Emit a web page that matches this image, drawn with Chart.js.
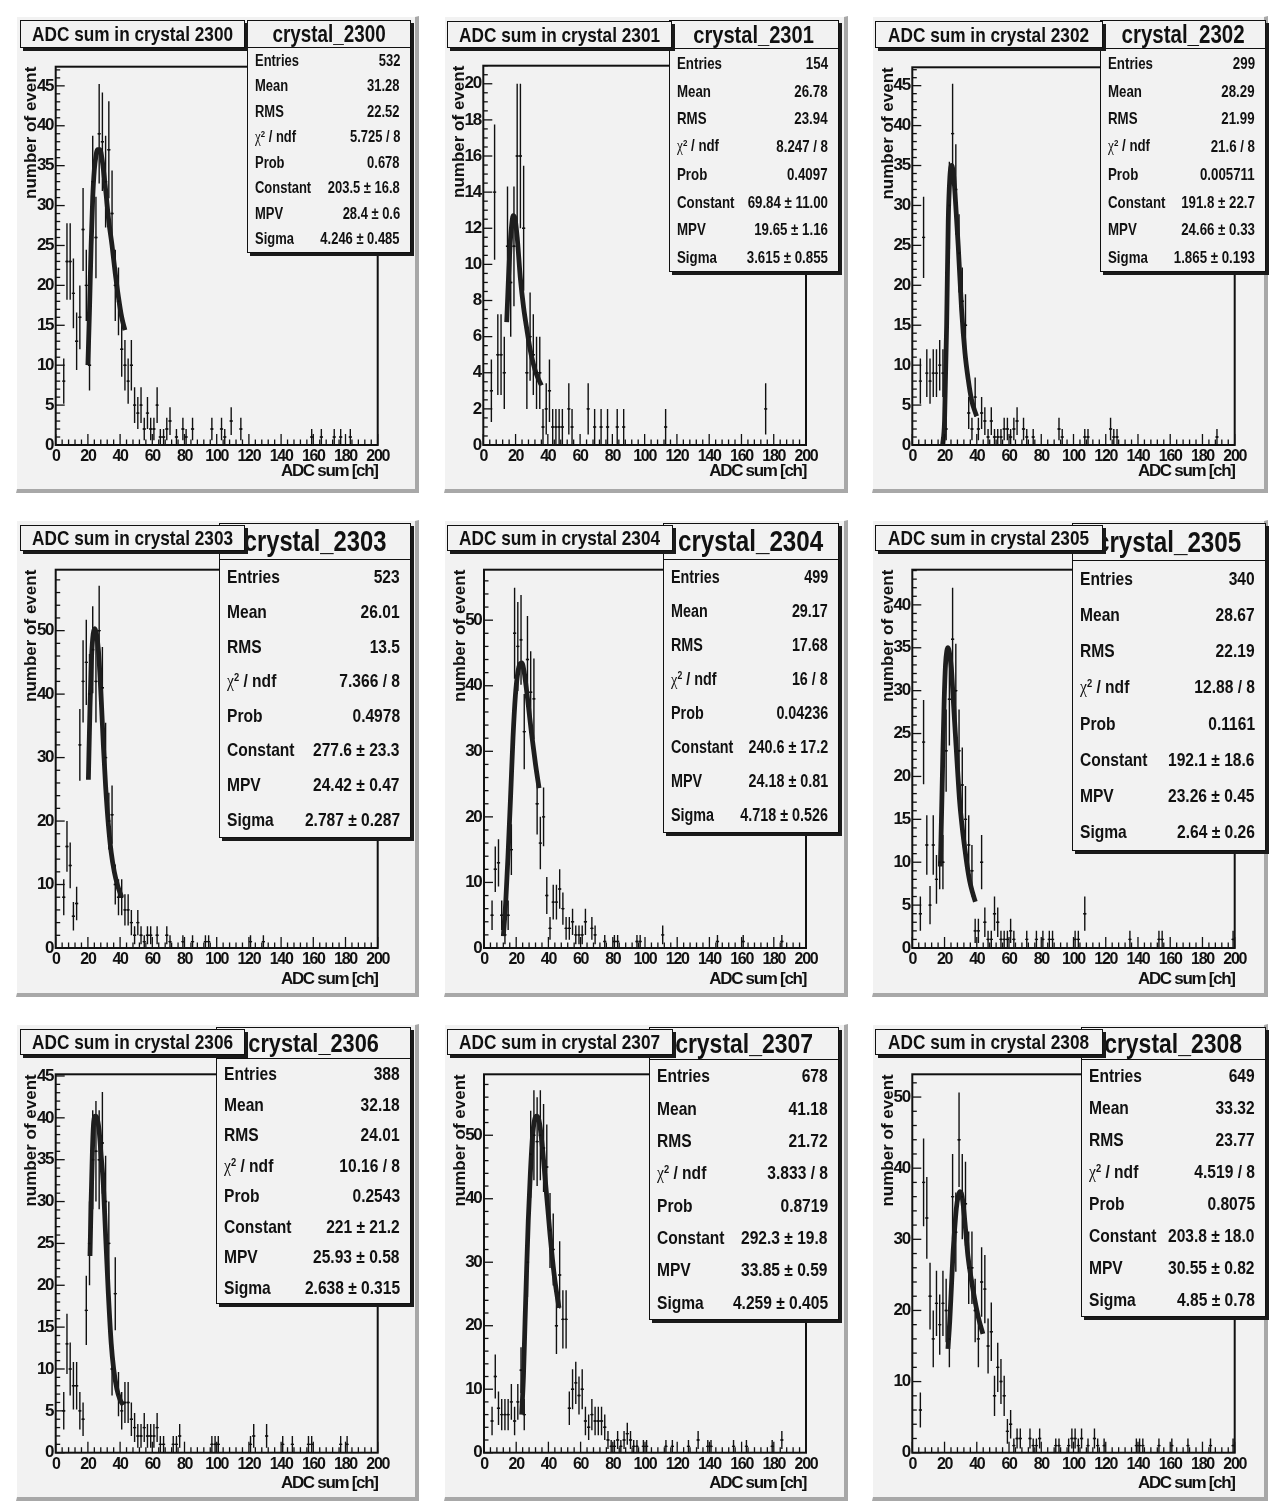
<!DOCTYPE html>
<html>
<head>
<meta charset="utf-8">
<script src="https://cdn.jsdelivr.net/npm/chart.js@4.4.1/dist/chart.umd.min.js"></script>
<style>
  body { margin: 0; background: #fff; width: 1271px; height: 1506px; position: relative; overflow: hidden; }
  .pad { position: absolute; background: #f2f2f2; box-sizing: border-box;
         border-style: solid; border-width: 1px 4px 4px 1px; border-color: #fff #a8a8a8 #a8a8a8 #fff; }
  canvas { position: absolute; }
  .box { position: absolute; background: #f2f2f2; border: 1.5px solid #111; box-shadow: 3px 3px 0 #1a1a1a;
         box-sizing: border-box; font-family: 'Liberation Sans', Arial, sans-serif;
         font-weight: bold; color: #111; }
  .pave { display: flex; align-items: center; justify-content: center; font-size: 21px; }
  .nx { display: inline-block; white-space: nowrap; transform: scaleX(0.82); }
  .st-title { display: flex; align-items: center; justify-content: center; border-bottom: 1.5px solid #111; box-sizing: border-box; }
  .st-body { display: flex; flex-direction: column; padding: 0 10px 0 7px; box-sizing: border-box; }
  .st-row { flex: 1; position: relative; }
  .st-row span.lab, .st-row span.val { position: absolute; top: 50%; white-space: nowrap; }
  .st-row span.lab { left: 0; transform: translateY(-50%) scaleX(0.82); transform-origin: left center; }
  .st-row span.val { right: 0; transform: translateY(-50%) scaleX(0.82); transform-origin: right center; }
  .st-row sup { font-size: 0.6em; vertical-align: 0.55em; line-height: 0; }
  .chi { font-family: 'Liberation Serif', serif; font-weight: normal; }
</style>
</head>
<body>
<script>
const FONT = "'Liberation Sans',Arial,sans-serif";
const BIN_W = 2;

const crystals = ['2300', '2301', '2302', '2303', '2304', '2305', '2306', '2307', '2308'];

// bin centres and counts (empty bins left out)
const x2300 = [5,7,9,11,13,15,17,19,21,23,25,27,29,31,33,35,37,39,41,43,45,47,49,51,53,55,57,59,61,63,65,67,69,71,75,79,81,85,97,103,105,109,115,159,165,173,177,183];
const n2300 = [8,23,23,19,13,16,27,20,10,33,26,39,38,33,37,29,20,18,12,10,8,10,5,4,5,2,4,2,2,5,1,1,2,3,1,2,1,2,2,2,1,3,2,1,1,1,1,1];
const x2301 = [5,7,9,11,13,15,17,19,21,23,25,27,29,31,33,35,37,39,41,43,45,47,49,53,55,65,69,73,77,83,87,113,175];
const n2301 = [3,14,5,5,4,11,9,11,16,16,12,4,6,5,4,4,1,2,3,1,1,1,1,2,1,2,1,1,1,1,1,1,2];
const x2302 = [5,7,9,11,13,15,17,19,21,23,25,27,29,31,33,35,37,39,41,43,45,47,49,51,53,55,57,59,61,63,65,69,71,75,91,93,107,109,123,125,127,189];
const n2302 = [8,26,9,8,9,9,10,9,2,30,39,32,24,18,15,4,2,6,2,4,3,1,3,1,1,1,2,2,1,2,3,2,1,1,2,1,1,1,2,1,1,1];
const x2303 = [5,7,9,11,13,15,17,19,21,23,25,27,29,31,33,35,37,39,41,43,45,47,49,51,53,55,57,59,63,69,71,79,85,93,95,121,129];
const n2303 = [8,16,13,5,7,32,42,45,40,47,42,50,41,30,20,21,10,8,8,6,6,4,2,4,2,1,2,2,2,2,1,1,1,1,1,1,1];
const x2304 = [5,7,9,11,13,15,17,19,21,23,25,27,29,31,33,35,37,39,41,43,45,47,49,51,53,55,57,59,61,63,67,69,75,81,83,95,97,111,145,161,185];
const n2304 = [5,12,13,5,2,5,15,48,46,47,33,44,39,38,22,16,20,8,3,7,7,9,6,3,3,4,2,2,2,4,3,2,1,1,1,1,1,2,1,1,1];
const x2305 = [5,7,9,11,13,15,17,19,21,23,25,27,29,31,33,35,37,39,41,43,45,47,49,51,53,55,57,59,61,63,71,77,81,85,87,101,103,107,135,153,155,199];
const n2305 = [4,24,12,5,12,8,10,10,23,29,36,30,23,19,15,12,9,2,2,10,3,1,1,4,3,1,1,1,2,1,1,1,1,1,1,1,1,4,1,1,1,1];
const x2306 = [5,7,9,11,13,15,17,19,21,23,25,27,29,31,33,35,37,39,41,43,45,47,49,51,53,55,57,59,61,63,65,67,73,75,77,97,99,101,121,123,131,141,147,157,159,177,181];
const n2306 = [5,13,10,8,8,5,4,17,25,35,36,35,37,30,25,10,19,7,5,6,6,4,3,2,2,3,2,2,2,3,1,1,1,1,2,1,1,1,1,2,2,1,1,1,1,1,1];
const x2307 = [5,7,9,11,13,15,17,19,21,23,25,27,29,31,33,35,37,39,41,43,45,47,49,51,53,55,57,59,61,63,65,67,69,71,73,75,77,79,81,83,85,87,89,91,93,95,99,101,113,117,127,133,139,141,155,163,179,185];
const n2307 = [5,12,7,6,6,6,8,5,8,13,6,30,47,50,49,50,48,45,35,32,20,28,21,21,7,10,11,9,10,5,4,6,5,5,5,4,2,1,1,2,1,2,3,2,1,1,1,1,1,1,1,2,1,1,1,1,1,2];
const x2308 = [5,7,9,11,13,15,17,19,21,23,25,27,29,31,33,35,37,39,41,43,45,47,49,51,53,55,57,59,61,63,65,67,73,75,77,79,89,91,97,99,101,103,105,109,113,115,119,139,141,143,153,161,171,185,199];
const n2308 = [6,38,33,22,16,21,18,21,20,16,36,31,44,36,35,26,26,20,16,24,23,15,17,8,12,10,8,3,4,1,2,2,2,1,1,2,1,1,1,2,2,1,2,1,2,1,1,1,1,1,1,1,1,1,1];

// Landau fit curves
const fitX2300 = [20, 21, 22, 23, 24, 25, 26, 27.5, 29, 31, 33, 35, 37, 39, 41, 43];
const fitY2300 = [10, 17, 25, 31, 34.5, 36.2, 37, 37, 35.5, 32, 28, 25, 21.5, 18.5, 16, 14.4];
const fitX2301 = [14.5, 15.5, 16.5, 17.5, 18.5, 19.5, 21, 23, 25, 27, 29, 31, 33, 36];
const fitY2301 = [6.8, 9, 10.9, 12.1, 12.7, 12.6, 11.5, 9.2, 7.6, 6.4, 5.3, 4.5, 3.9, 3.3];
const fitX2302 = [18.8, 20, 21.3, 22.3, 23.3, 24.4, 25.5, 26.5, 28.5, 30.6, 32.7, 34.7, 36.8, 39.9];
const fitY2302 = [0, 3, 15, 28, 33.5, 35, 34, 31.5, 24.9, 16.9, 11.5, 8.2, 5.6, 3.6];
const fitX2303 = [20.3, 21.3, 22.3, 23.3, 24.3, 25.3, 26.5, 27.5, 28.5, 29.6, 31, 32.7, 34.5, 36.4, 38.5, 41];
const fitY2303 = [26.5, 38, 46, 49.5, 50.3, 49.5, 47, 43, 38, 32, 25.5, 19.5, 15, 12, 9.8, 8];
const fitX2304 = [12, 13.5, 15, 16.5, 18, 19.5, 21, 22.5, 23.5, 25, 26.5, 28, 29.6, 32, 34.2];
const fitY2304 = [1.8, 7, 14.5, 23, 32, 38.5, 42, 43.4, 43.5, 42, 39.2, 36, 32.6, 28, 24.4];
const fitX2305 = [17.4, 18.2, 19, 19.8, 20.6, 21.4, 22.2, 23, 24.2, 25.4, 26.7, 28, 29.4, 31, 32.5, 34, 35.6, 37.3, 39.1];
const fitY2305 = [9.5, 16, 23, 29, 33, 34.6, 35, 34.5, 32.7, 29, 25, 21, 17, 14, 11.7, 9.6, 7.8, 6.5, 5.4];
const fitX2306 = [21.3, 22, 22.8, 23.6, 24.6, 25.6, 26.9, 28.2, 29.6, 31, 32.7, 34.5, 36, 38, 40, 42];
const fitY2306 = [23.5, 30, 36, 39.5, 40.2, 40, 38.6, 35.5, 32, 26, 19, 13, 10, 7.6, 6.3, 5.7];
const fitX2307 = [23.4, 24.5, 25.5, 26.5, 27.5, 28.8, 30.2, 31.5, 32.7, 34, 35, 36.5, 37.9, 39.5, 41, 42.5, 44.1, 46.6];
const fitY2307 = [6, 12, 20.7, 29, 36.6, 44, 50, 52.5, 53, 52.5, 51, 47.5, 43.4, 38.8, 34.4, 30.5, 27, 22.8];
const fitX2308 = [22.1, 23.2, 24.2, 25.2, 26.3, 27.3, 28.4, 29.4, 30.4, 31.4, 33, 34.5, 36.5, 38.7, 41, 43.8];
const fitY2308 = [14.6, 18.4, 23, 27.7, 31.5, 34.3, 36, 36.7, 36.5, 35.2, 31.5, 27.7, 24.5, 21.6, 19, 16.7];

// y axis range, labelled step and minor step per crystal
const yMax = [47.4, 21, 47.3, 59.6, 57.7, 44.1, 45.2, 59.6, 53.2];
const yStep = [5, 2, 5, 10, 10, 5, 5, 10, 10];
const yMinor = [1, 0.5, 1, 2, 2, 1, 1, 2, 2];

// statistics boxes
const statLabels = ['Entries', 'Mean', 'RMS', '<span class="chi">&chi;</span><sup>2</sup> / ndf', 'Prob', 'Constant', 'MPV', 'Sigma'];
const stat2300 = ['532', '31.28', '22.52', '5.725 / 8', '0.678', '203.5 ± 16.8', '28.4 ± 0.6', '4.246 ± 0.485'];
const stat2301 = ['154', '26.78', '23.94', '8.247 / 8', '0.4097', '69.84 ± 11.00', '19.65 ± 1.16', '3.615 ± 0.855'];
const stat2302 = ['299', '28.29', '21.99', '21.6 / 8', '0.005711', '191.8 ± 22.7', '24.66 ± 0.33', '1.865 ± 0.193'];
const stat2303 = ['523', '26.01', '13.5', '7.366 / 8', '0.4978', '277.6 ± 23.3', '24.42 ± 0.47', '2.787 ± 0.287'];
const stat2304 = ['499', '29.17', '17.68', '16 / 8', '0.04236', '240.6 ± 17.2', '24.18 ± 0.81', '4.718 ± 0.526'];
const stat2305 = ['340', '28.67', '22.19', '12.88 / 8', '0.1161', '192.1 ± 18.6', '23.26 ± 0.45', '2.64 ± 0.26'];
const stat2306 = ['388', '32.18', '24.01', '10.16 / 8', '0.2543', '221 ± 21.2', '25.93 ± 0.58', '2.638 ± 0.315'];
const stat2307 = ['678', '41.18', '21.72', '3.833 / 8', '0.8719', '292.3 ± 19.8', '33.85 ± 0.59', '4.259 ± 0.405'];
const stat2308 = ['649', '33.32', '23.77', '4.519 / 8', '0.8075', '203.8 ± 18.0', '30.55 ± 0.82', '4.85 ± 0.78'];

const hx = [x2300, x2301, x2302, x2303, x2304, x2305, x2306, x2307, x2308];
const hn = [n2300, n2301, n2302, n2303, n2304, n2305, n2306, n2307, n2308];
const fx = [fitX2300, fitX2301, fitX2302, fitX2303, fitX2304, fitX2305, fitX2306, fitX2307, fitX2308];
const fy = [fitY2300, fitY2301, fitY2302, fitY2303, fitY2304, fitY2305, fitY2306, fitY2307, fitY2308];
const stats = [stat2300, stat2301, stat2302, stat2303, stat2304, stat2305, stat2306, stat2307, stat2308];

// page layout (pixels): pad, frame, title pave, stats box
const layout = [
  { pad: [16, 16, 403, 477],  frame: [55.7, 66.7, 377.7, 445],      xt: 26.7, pave: [20, 20, 245, 48],     st: [247, 20, 411, 253, 47, 23, 15.8] },
  { pad: [444, 16, 404, 477], frame: [483.3, 65.7, 806, 445],       xt: 26.7, pave: [447, 21, 672, 48],    st: [669, 20, 839, 272, 48, 24.5, 16.2] },
  { pad: [872, 16, 396, 477], frame: [912.3, 67.3, 1234.7, 445],    xt: 26.7, pave: [875, 21, 1103, 48],   st: [1100, 20, 1266, 272, 48, 25, 16.2] },
  { pad: [16, 520, 403, 477], frame: [55.7, 569.7, 377.7, 948],     xt: 31.5, pave: [20, 525, 245, 551],   st: [219, 523, 411, 838, 559, 29, 19] },
  { pad: [444, 520, 404, 477], frame: [484, 569.7, 806, 948],       xt: 31.5, pave: [447, 525, 673, 551],  st: [663, 523, 839, 833, 558.5, 29.5, 17.5] },
  { pad: [872, 520, 396, 477], frame: [912.3, 569.7, 1234.7, 948],  xt: 31.5, pave: [875, 525, 1103, 551], st: [1072, 523, 1266, 851, 560, 29.5, 19] },
  { pad: [16, 1024, 403, 477], frame: [55.7, 1074.3, 377.7, 1452.7], xt: 31, pave: [20, 1029, 245, 1055], st: [216, 1027, 411, 1304, 1058, 26.5, 19] },
  { pad: [444, 1024, 404, 477], frame: [484, 1074.3, 806, 1452.7],   xt: 31, pave: [447, 1029, 673, 1055], st: [649, 1027, 839, 1320, 1059, 28, 19] },
  { pad: [872, 1024, 396, 477], frame: [912.3, 1074.3, 1234.7, 1452.7], xt: 31, pave: [875, 1029, 1103, 1055], st: [1081, 1027, 1266, 1317, 1059, 28, 19] }
];

// squeeze horizontal canvas text a bit (the original uses a narrow face);
// the rotated y title keeps normal spacing
const narrowTextPlugin = {
  id: 'narrowText',
  beforeDraw(chart) {
    const ys = chart.scales.y;
    if (ys && !ys._plainTitle) {
      const orig = ys.drawTitle.bind(ys);
      ys.drawTitle = () => {
        const c = chart.ctx;
        const prev = c.letterSpacing;
        c.letterSpacing = '0px';
        orig();
        c.letterSpacing = prev;
      };
      ys._plainTitle = true;
    }
    chart.ctx.letterSpacing = '-1.3px';
  },
  afterDraw(chart) {
    chart.ctx.letterSpacing = '0px';
  }
};

// vertical sqrt(N) errors and horizontal bin-width bars, like ROOT "E"
const errorBarPlugin = {
  id: 'errorBars',
  beforeDatasetsDraw(chart) {
    const { ctx, chartArea: a, scales: { x, y } } = chart;
    ctx.save();
    ctx.beginPath();
    ctx.rect(a.left, a.top, a.width, a.height);
    ctx.clip();
    ctx.strokeStyle = '#111';
    ctx.lineWidth = 1.4;
    chart.data.datasets[0].data.forEach(p => {
      const err = Math.sqrt(p.y);
      const px = x.getPixelForValue(p.x);
      const py = y.getPixelForValue(p.y);
      ctx.beginPath();
      ctx.moveTo(x.getPixelForValue(p.x - BIN_W / 2), py);
      ctx.lineTo(x.getPixelForValue(p.x + BIN_W / 2), py);
      ctx.moveTo(px, y.getPixelForValue(p.y + err));
      ctx.lineTo(px, y.getPixelForValue(Math.max(0, p.y - err)));
      ctx.stroke();
    });
    ctx.restore();
  }
};

// frame box and inward major/minor ticks
const framePlugin = {
  id: 'rootFrame',
  afterDatasetsDraw(chart, args, opts) {
    const { ctx, chartArea: a, scales: { x, y } } = chart;
    ctx.save();
    ctx.strokeStyle = '#111';
    ctx.lineWidth = 1.3;
    for (let i = 0; i <= 50; i++) {
      const px = x.getPixelForValue(i * 4);
      const len = i % 5 === 0 ? 11 : 5.5;
      ctx.beginPath();
      ctx.moveTo(px, a.bottom);
      ctx.lineTo(px, a.bottom - len);
      ctx.stroke();
    }
    const per = Math.round(opts.step / opts.minor);
    const count = Math.floor(opts.max / opts.minor + 1e-6);
    for (let i = 0; i <= count; i++) {
      const py = y.getPixelForValue(i * opts.minor);
      const len = i % per === 0 ? 9 : 4.5;
      ctx.beginPath();
      ctx.moveTo(a.left, py);
      ctx.lineTo(a.left + len, py);
      ctx.stroke();
    }
    ctx.lineWidth = 2;
    ctx.strokeRect(a.left, a.top, a.width, a.height);
    ctx.restore();
  }
};

function addDiv(cls, rect, html) {
  const d = document.createElement('div');
  d.className = cls;
  d.style.left = rect[0] + 'px';
  d.style.top = rect[1] + 'px';
  d.style.width = rect[2] + 'px';
  d.style.height = rect[3] + 'px';
  if (html) d.innerHTML = html;
  document.body.appendChild(d);
  return d;
}

crystals.forEach((id, i) => {
  const L = layout[i];
  const [pl, pt, pw, ph] = L.pad;
  const [fl, ft, fr, fb] = L.frame;

  addDiv('pad', L.pad);

  const canvas = document.createElement('canvas');
  canvas.width = pw;
  canvas.height = ph;
  canvas.style.left = pl + 'px';
  canvas.style.top = pt + 'px';
  document.body.appendChild(canvas);

  const titleHalf = 17 * 1.2 / 2;
  const padLeft = fl - 24 - titleHalf - pl;
  const yWidth = fl - pl - padLeft;
  const xHeight = L.xt + titleHalf;
  const padBottom = pt + ph - (fb + xHeight);

  const points = hx[i].map((v, k) => ({ x: v, y: hn[i][k] }));
  const fit = fx[i].map((v, k) => ({ x: v, y: fy[i][k] }));

  new Chart(canvas, {
    type: 'scatter',
    data: {
      datasets: [
        { data: points, pointRadius: 1, pointBackgroundColor: '#111', pointBorderWidth: 0 },
        { type: 'line', data: fit, borderColor: '#1e1e1e', borderWidth: 4.8, pointRadius: 0,
          cubicInterpolationMode: 'monotone', fill: false, borderJoinStyle: 'round' }
      ]
    },
    options: {
      responsive: false,
      animation: false,
      devicePixelRatio: 1,
      layout: { padding: { left: padLeft, top: ft - pt, right: pl + pw - fr, bottom: padBottom } },
      plugins: {
        legend: { display: false },
        tooltip: { enabled: false },
        rootFrame: { max: yMax[i], step: yStep[i], minor: yMinor[i] }
      },
      scales: {
        x: {
          type: 'linear', min: 0, max: 200,
          grid: { display: false, drawTicks: false },
          border: { display: false },
          ticks: { stepSize: 20, maxRotation: 0, autoSkip: false, includeBounds: false, padding: 2,
                   color: '#111', font: { family: FONT, size: 16, weight: 'bold' } },
          title: { display: true, text: 'ADC sum [ch]', align: 'end', padding: 0, color: '#111',
                   font: { family: FONT, size: 17, weight: 'bold', lineHeight: 1.2 } },
          afterFit: s => { s.height = xHeight; }
        },
        y: {
          type: 'linear', min: 0, max: yMax[i],
          grid: { display: false, drawTicks: false },
          border: { display: false },
          ticks: { stepSize: yStep[i], includeBounds: false, padding: 2.5,
                   color: '#111', font: { family: FONT, size: 17, weight: 'bold' } },
          title: { display: true, text: 'number of event', align: 'end', padding: 0, color: '#111',
                   font: { family: FONT, size: 17, weight: 'bold', lineHeight: 1.2 } },
          afterFit: s => { s.width = yWidth; }
        }
      }
    },
    plugins: [narrowTextPlugin, errorBarPlugin, framePlugin]
  });

  // stats box: title row + 8 rows
  const [sl, stp, sr, sb, stb, tFont, rFont] = L.st;
  const box = addDiv('box', [sl, stp, sr - sl, sb - stp]);
  const t = document.createElement('div');
  t.className = 'st-title';
  t.style.height = (stb - stp) + 'px';
  t.style.fontSize = tFont + 'px';
  t.innerHTML = `<span class="nx">crystal_${id}</span>`;
  box.appendChild(t);
  const body = document.createElement('div');
  body.className = 'st-body';
  body.style.height = (sb - stb - 2) + 'px';
  body.style.fontSize = rFont + 'px';
  body.innerHTML = statLabels.map((lab, k) =>
    `<div class="st-row"><span class="lab">${lab}</span><span class="val">${stats[i][k]}</span></div>`).join('');
  box.appendChild(body);

  // histogram title pave
  const [ql, qt, qr, qb] = L.pave;
  addDiv('box pave', [ql, qt, qr - ql, qb - qt], `<span class="nx">ADC sum in crystal ${id}</span>`);
});
</script>
</body>
</html>
